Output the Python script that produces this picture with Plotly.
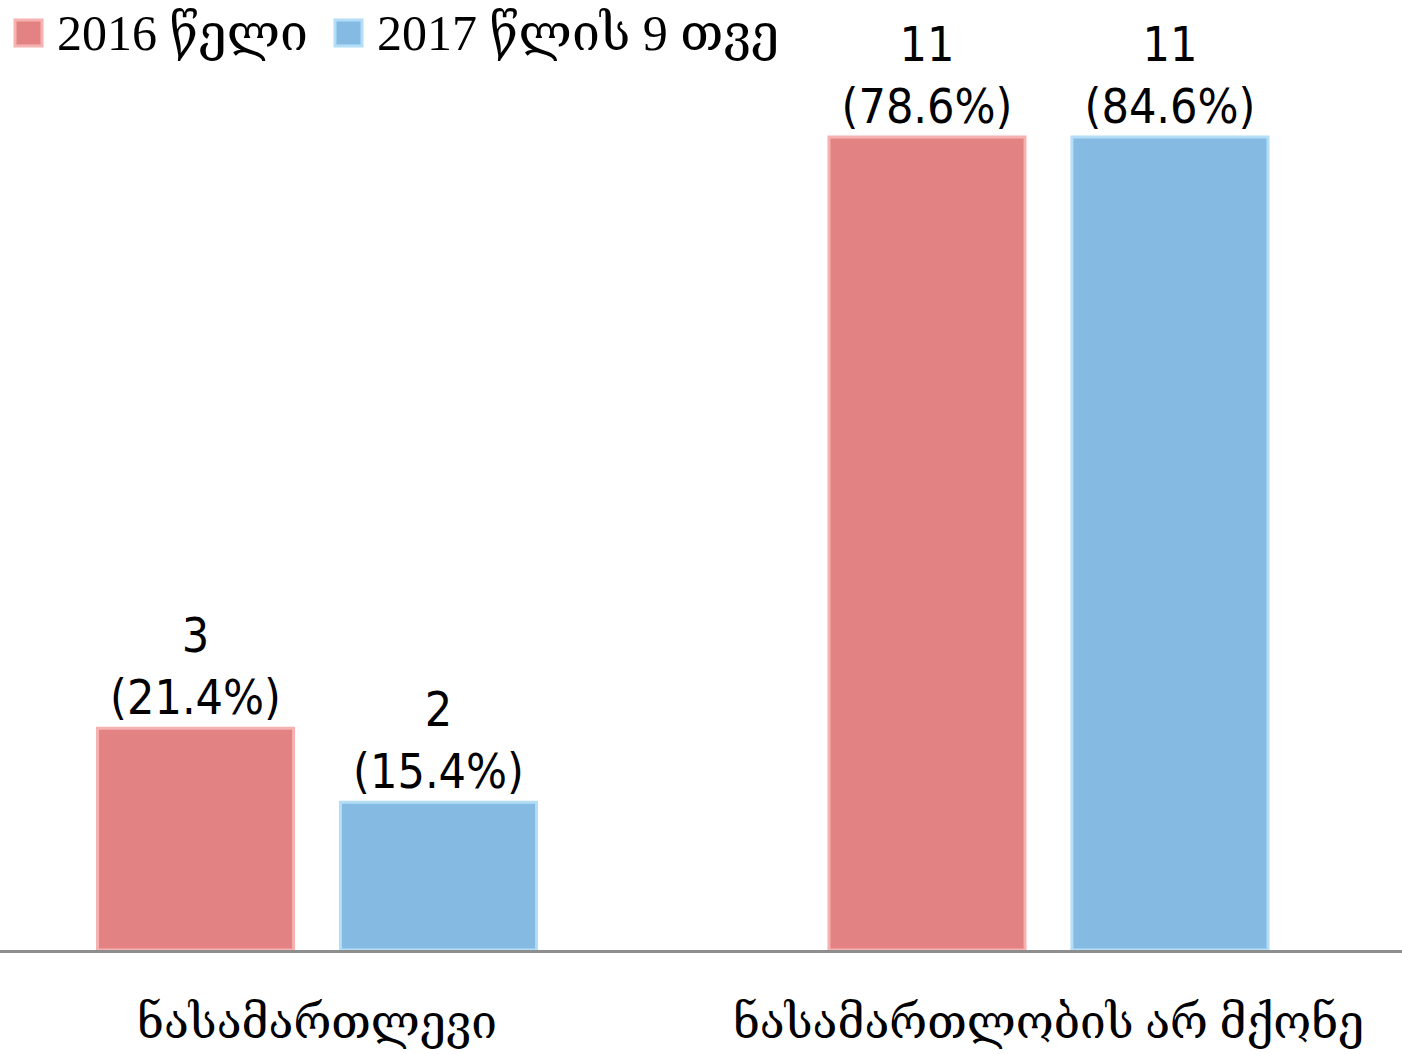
import plotly.graph_objects as go

categories = ["ნასამართლევი", "ნასამართლობის არ მქონე"]
series_names = ["2016 წელი", "2017 წლის 9 თვე"]
values_2016 = [3, 11]
values_2017 = [2, 11]
pct_2016 = ["21.4%", "78.6%"]
pct_2017 = ["15.4%", "84.6%"]

colors = ["#E38283", "#85BBE2"]
edge_colors = ["#F6B1B1", "#B4DDF8"]

W, H = 1402, 1054
mt, mb = 80, 104
plot_h = H - mt - mb
px_per_unit = 813 / 11
ymax = plot_h / px_per_unit

fig = go.Figure()
for name, vals, pcts, c, ec in [
    (series_names[0], values_2016, pct_2016, colors[0], edge_colors[0]),
    (series_names[1], values_2017, pct_2017, colors[1], edge_colors[1]),
]:
    fig.add_trace(go.Bar(
        x=categories, y=vals, name=name,
        marker=dict(color=c, line=dict(color=ec, width=3)),
        text=[f"{v}<br>({p})" for v, p in zip(vals, pcts)],
        textposition="outside",
        constraintext="none",
        cliponaxis=False,
        textfont=dict(family="DejaVu Sans Condensed, DejaVu Sans", size=48, color="#000000"),
        showlegend=False,
        hoverinfo="skip",
    ))

# custom legend (symbols + text)
def px_to_paper_x(px):
    return px / W

def py_to_paper_y(py):
    return (H - mb - py) / plot_h

legend_items = [(15, 55), (335, 375)]
for (sx, tx), name, c, ec in zip(legend_items, series_names, colors, edge_colors):
    fig.add_shape(type="rect", xref="paper", yref="paper",
                  x0=px_to_paper_x(sx), x1=px_to_paper_x(sx + 27),
                  y0=py_to_paper_y(46), y1=py_to_paper_y(20),
                  fillcolor=c, line=dict(color=ec, width=3))
    fig.add_annotation(text=name, xref="paper", yref="paper",
                       x=px_to_paper_x(tx), y=py_to_paper_y(33),
                       xanchor="left", yanchor="middle", showarrow=False,
                       font=dict(family="Liberation Serif, DejaVu Serif", size=50, color="#000000"))

fig.update_layout(
    width=W, height=H,
    margin=dict(l=0, r=0, t=mt, b=mb, autoexpand=False),
    plot_bgcolor="white", paper_bgcolor="white",
    barmode="group", bargap=0.3356, bargroupgap=0.193,
    showlegend=False,
    hovermode=False,
    xaxis=dict(
        type="category",
        range=[-0.4334, 1.4833],
        showline=True, linecolor="#8E8E8E", linewidth=2.5,
        showgrid=False, ticks="",
        automargin=False,
        tickfont=dict(family="Liberation Serif, DejaVu Serif", size=46, color="#000000"),
        ticklabelstandoff=30,
    ),
    yaxis=dict(range=[0, ymax], visible=False, showgrid=False, zeroline=False, automargin=False),
)

fig.write_html("out.html", config={"displayModeBar": False},
               post_script="document.body.style.margin='0px';")
